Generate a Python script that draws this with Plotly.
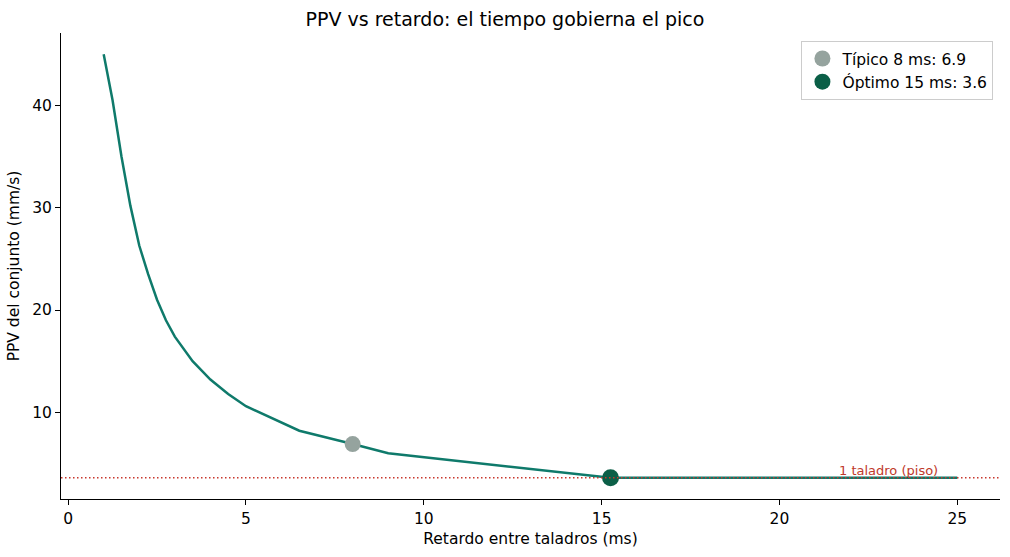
import plotly.graph_objects as go

# Data
retardo_ms = [1, 1.25, 1.5, 1.75, 2, 2.25, 2.5, 2.75, 3, 3.5, 4, 4.5, 5, 6.5, 8, 9, 15.25, 25]
ppv_mm_s = [45, 40.5, 35.0, 30.2, 26.3, 23.5, 21.0, 19.0, 17.4, 15.0, 13.2, 11.8, 10.6, 8.2, 6.9, 6.0, 3.6, 3.6]
tipico_x, tipico_y = 8, 6.9
optimo_x, optimo_y = 15.25, 3.6
piso = 3.6
x_ticks = [0, 5, 10, 15, 20, 25]
y_ticks = [10, 20, 30, 40]

FONT = "DejaVu Sans"
fig = go.Figure()
fig.add_trace(go.Scatter(x=retardo_ms, y=ppv_mm_s, mode="lines",
                         line=dict(color="#0f7a6b", width=2.5), showlegend=False,
                         hoverinfo="skip"))
fig.add_trace(go.Scatter(x=[tipico_x], y=[tipico_y], mode="markers",
                         marker=dict(color="#95a39e", size=16),
                         name="Típico 8 ms: 6.9"))
fig.add_trace(go.Scatter(x=[optimo_x], y=[optimo_y], mode="markers",
                         marker=dict(color="#0b5f47", size=17),
                         name="Óptimo 15 ms: 3.6"))

fig.add_shape(type="line", xref="paper", x0=0, x1=1, yref="y", y0=piso, y1=piso,
              line=dict(color="#c8372d", width=1.5, dash="1.5px,2.5px"), layer="above")
fig.add_annotation(x=24.5, y=piso, xanchor="right", yanchor="bottom",
                   text="1 taladro (piso)", showarrow=False, yshift=-2,
                   font=dict(family=FONT, size=13, color="#c0392b"))

axis_common = dict(showline=True, linecolor="black", linewidth=1, ticks="outside",
                   ticklen=5, tickwidth=1, tickcolor="black", showgrid=False,
                   zeroline=False, tickfont=dict(family=FONT, size=15.5, color="black"),
                   mirror=False)

fig.update_layout(
    width=1010, height=557,
    margin=dict(l=61, r=10, t=33, b=58),
    paper_bgcolor="white", plot_bgcolor="white",
    title=dict(text="PPV vs retardo: el tiempo gobierna el pico", x=0.5, xanchor="center",
               y=1 - 19 / 557, yanchor="middle",
               font=dict(family=FONT, size=19, color="black")),
    xaxis=dict(range=[-0.2, 26.2], tickvals=x_ticks,
               title=dict(text="Retardo entre taladros (ms)", standoff=6,
                          font=dict(family=FONT, size=15.5, color="black")),
               **axis_common),
    yaxis=dict(range=[1.53, 47.07], tickvals=y_ticks,
               title=dict(text="PPV del conjunto (mm/s)", standoff=8,
                          font=dict(family=FONT, size=15.5, color="black")),
               **axis_common),
    legend=dict(x=0.993, y=0.983, xanchor="right", yanchor="top",
                bgcolor="rgba(255,255,255,0.8)", bordercolor="#cccccc", borderwidth=1,
                tracegroupgap=0, itemwidth=30,
                font=dict(family=FONT, size=15.5, color="black")),
    showlegend=True,
)

fig.write_html("out.html")
